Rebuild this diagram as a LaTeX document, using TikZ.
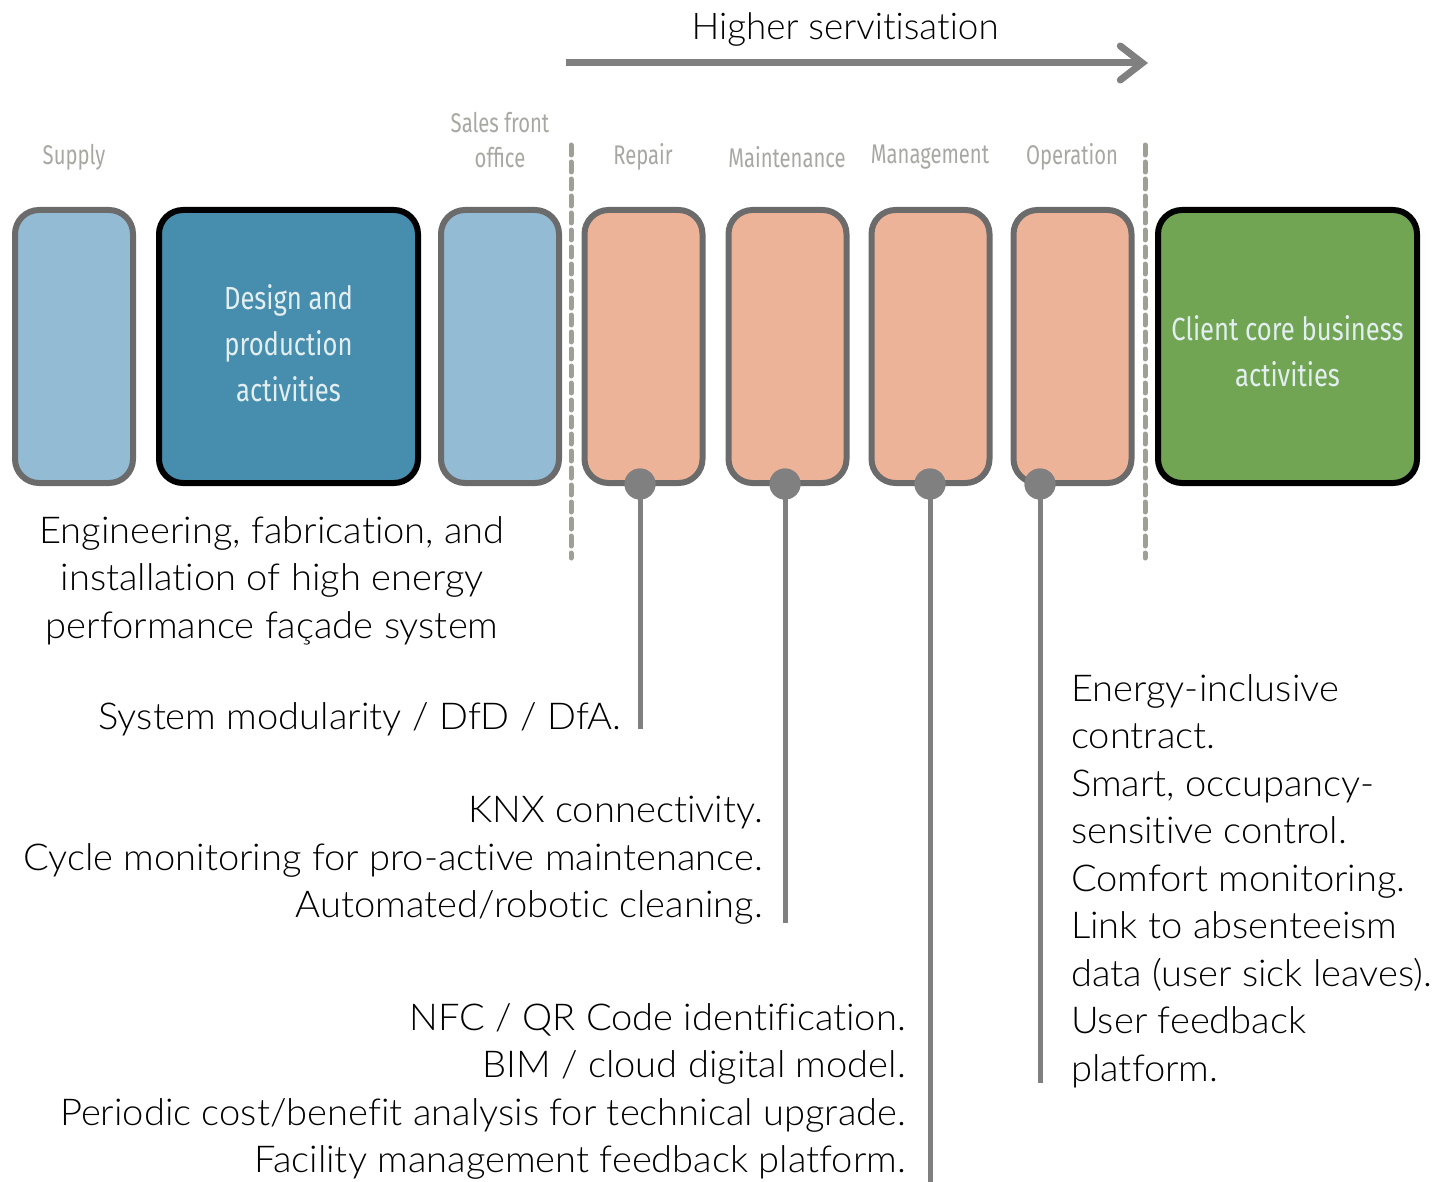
\documentclass[tikz,border=0pt]{standalone}
\usepackage{fontspec}
\setmainfont{Lato Light}[FakeStretch=1.03, Ligatures=NoCommon]
\newfontfamily\titlefont{Lato Light}[Ligatures=NoCommon]
\newfontfamily\condfont{Fira Sans}[FakeStretch=0.75]
\newfontfamily\boxfont{Fira Sans}[FakeStretch=0.80]
\usetikzlibrary{arrows.meta}
\definecolor{boxline}{HTML}{6B6B6B}
\definecolor{lightblue}{HTML}{93BBD3}
\definecolor{darkblue}{HTML}{478DAE}
\definecolor{salmon}{HTML}{EDB399}
\definecolor{green}{HTML}{72A553}
\definecolor{labelgray}{HTML}{A8A8A2}
\definecolor{dashgray}{HTML}{A09F96}
\definecolor{stemgray}{HTML}{808080}
\definecolor{boxtext}{HTML}{E2EEF0}
\tikzset{
  box/.style={draw=boxline, line width=6pt, rounded corners=24pt, minimum height=273pt, inner sep=0pt},
  narrowbox/.style={box, minimum width=118pt},
  widebox/.style={box, minimum width=259pt, draw=black},
  toplabel/.style={text=labelgray, font=\condfont\fontsize{27}{35}\selectfont, align=center, inner sep=0pt},
  boxlabel/.style={text=boxtext, font=\boxfont\fontsize{32}{46}\selectfont, align=center, inner sep=0pt},
  divider/.style={draw=dashgray, line width=5pt, dash pattern=on 10pt off 7pt, line cap=round},
  stem/.style={draw=stemgray, line width=5pt},
  dot/.style={circle, fill=stemgray, minimum size=31pt, inner sep=0pt},
  body/.style={font=\fontsize{37}{47.5}\selectfont, inner sep=0pt, text=black},
}
\begin{document}
\begin{tikzpicture}[x=1pt,y=-1pt]
\useasboundingbox (0,0) rectangle (1447,1182);
% arrow
\node[font=\titlefont\fontsize{36.8}{46}\selectfont, inner sep=0pt] (title) at (845,30) {Higher servitisation};
\coordinate (arrS) at (566,63);
\coordinate (arrE) at (1148,63);
\draw[stemgray, line width=7pt, -{Straight Barb[length=22pt, width=34pt, line width=7pt, line cap=round]}] (arrS) -- (arrE);
% dividers
\coordinate (d1t) at (571,145);
\coordinate (d1b) at (571,558);
\coordinate (d2t) at (1145,145);
\coordinate (d2b) at (1145,558);
\draw[divider] (d1t) -- (d1b);
\draw[divider] (d2t) -- (d2b);
% boxes
\node[narrowbox, fill=lightblue] (supply) at (74,346.5) {};
\node[widebox, fill=darkblue] (design) at (288.5,346.5) {};
\node[narrowbox, fill=lightblue] (sales) at (500,346.5) {};
\node[narrowbox, fill=salmon] (repair) at (643.5,346.5) {};
\node[narrowbox, fill=salmon] (maint) at (787.5,346.5) {};
\node[narrowbox, fill=salmon] (manag) at (930.5,346.5) {};
\node[narrowbox, fill=salmon] (oper) at (1072.5,346.5) {};
\node[widebox, fill=green] (client) at (1287.5,346.5) {};
\node[boxlabel] (designtxt) at (288.5,343) {Design and\\production\\activities};
\node[boxlabel] (clienttxt) at (1287.5,351) {Client core business\\activities};
% top labels
\node[toplabel] (lsupply) at (74,157) {Supply};
\node[toplabel] (lsales) at (500,140) {Sales front\\office};
\node[toplabel] (lrepair) at (643,157) {Repair};
\node[toplabel] (lmaint) at (787,157) {Maintenance};
\node[toplabel] (lmanag) at (930,157) {Management};
\node[toplabel] (loper) at (1072,157) {Operation};
% stems
\coordinate (e1) at (640,729);
\coordinate (e2) at (785,923);
\coordinate (e3) at (930,1182);
\coordinate (e4) at (1040,1083);
\node[dot] (c1) at (640,484) {};
\node[dot] (c2) at (785,484) {};
\node[dot] (c3) at (930,484) {};
\node[dot] (c4) at (1040,484) {};
\draw[stem] (c1.center) -- (e1);
\draw[stem] (c2.center) -- (e2);
\draw[stem] (c3.center) -- (e3);
\draw[stem] (c4.center) -- (e4);
\node[dot] at (c1) {};
\node[dot] at (c2) {};
\node[dot] at (c3) {};
\node[dot] at (c4) {};
% texts
\node[body, align=center, anchor=north] (t0) at (272,516) {Engineering, fabrication, and\\installation of high energy\\performance façade system};
\node[body, align=right, anchor=east] (t1) at (621,719) {System modularity / DfD / DfA.};
\node[body, align=right, anchor=north east] (t2) at (763,796) {KNX connectivity.\\Cycle monitoring for pro-active maintenance.\\Automated/robotic cleaning.};
\node[body, align=right, anchor=north east] (t3) at (906,1003) {NFC / QR Code identification.\\BIM / cloud digital model.\\Periodic cost/benefit analysis for technical upgrade.\\Facility management feedback platform.};
\node[body, align=left, anchor=north west] (t4) at (1071,674) {Energy-inclusive\\contract.\\Smart, occupancy-\\sensitive control.\\Comfort monitoring.\\Link to absenteeism\\data (user sick leaves).\\User feedback\\platform.};
\end{tikzpicture}
\end{document}
